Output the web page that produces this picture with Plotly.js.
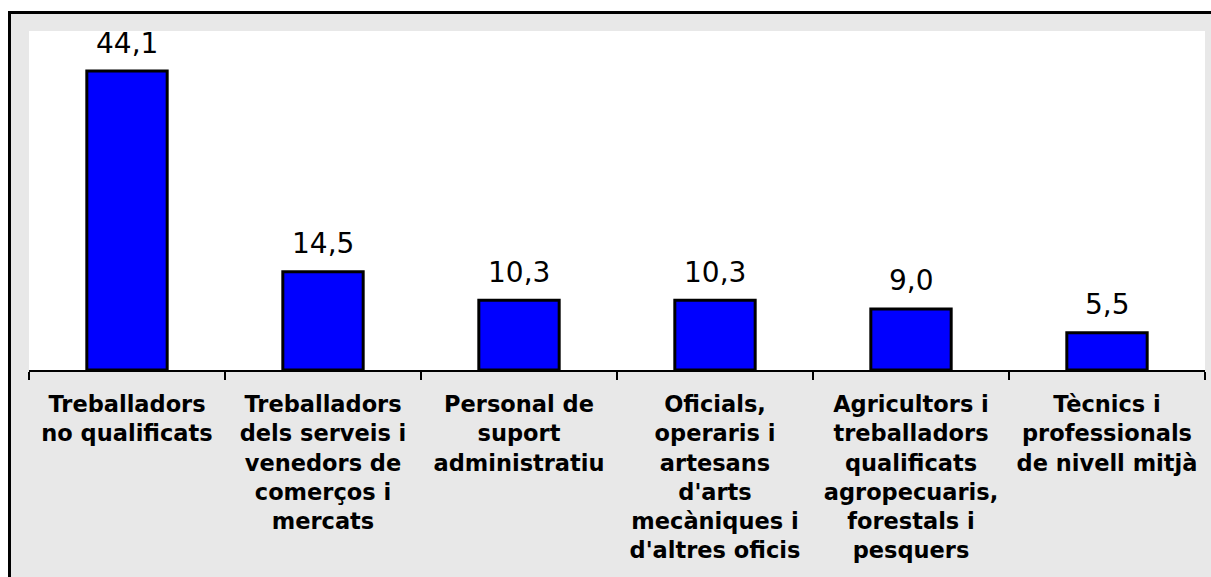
<!DOCTYPE html>
<html>
<head>
<meta charset="utf-8">
<script src="https://cdn.plot.ly/plotly-3.0.1.min.js"></script>
<style>
  html, body { margin: 0; padding: 0; background: #ffffff; width: 1211px; height: 577px; overflow: hidden; }
  #frame { position: absolute; left: 8px; top: 11px; width: 1203px; height: 566px;
           border-left: 3px solid #000; border-top: 3px solid #000; background: #e8e8e8; }
  #chart { width: 1200px; height: 563px; }
</style>
</head>
<body>
<div id="frame"><div id="chart"></div></div>
<script>
const categories = [
  "Treballadors<br>no qualificats",
  "Treballadors<br>dels serveis i<br>venedors de<br>comerços i<br>mercats",
  "Personal de<br>suport<br>administratiu",
  "Oficials,<br>operaris i<br>artesans<br>d'arts<br>mecàniques i<br>d'altres oficis",
  "Agricultors i<br>treballadors<br>qualificats<br>agropecuaris,<br>forestals i<br>pesquers",
  "Tècnics i<br>professionals<br>de nivell mitjà"
];
const values = [44.1, 14.5, 10.3, 10.3, 9.0, 5.5];

const labelText = values.map(v => v.toFixed(1).replace('.', ','));

const trace = {
  type: 'bar',
  x: categories,
  y: values,
  marker: { color: '#0000ff', line: { color: '#000000', width: 3 } },
  hoverinfo: 'none'
};

const annotations = categories.map((c, i) => ({
  x: c, y: values[i], xref: 'x', yref: 'y',
  text: labelText[i], showarrow: false,
  yanchor: 'middle', yshift: 28,
  font: { family: 'DejaVu Sans', size: 28, color: '#000000' }
}));

const layout = {
  width: 1200, height: 563,
  margin: { l: 18, r: 6, t: 17, b: 207 },
  paper_bgcolor: '#e8e8e8',
  plot_bgcolor: '#ffffff',
  bargap: 0.59,
  showlegend: false,
  font: { family: 'DejaVu Sans', color: '#000000' },
  xaxis: {
    type: 'category',
    tickson: 'boundaries',
    ticks: 'outside', ticklen: 8, tickwidth: 2, tickcolor: '#000000',
    showline: true, linecolor: '#000000', linewidth: 2,
    showgrid: false, zeroline: false,
    tickfont: { family: 'DejaVu Sans', size: 22.5, color: '#000000', weight: 'bold' },
    tickangle: 0,
    ticklabelstandoff: 13,
    automargin: false
  },
  yaxis: {
    range: [0, 50],
    visible: false,
    showgrid: false, zeroline: false, fixedrange: true
  },
  annotations: annotations
};

Plotly.newPlot('chart', [trace], layout, { displayModeBar: false, staticPlot: true });
</script>
</body>
</html>
